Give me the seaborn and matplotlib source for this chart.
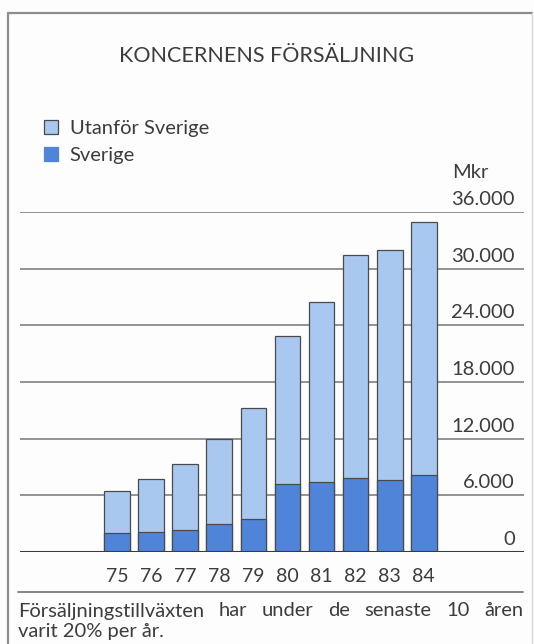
import matplotlib
matplotlib.use("Agg")
import matplotlib.pyplot as plt
from matplotlib.lines import Line2D
from matplotlib.patches import Patch
import seaborn as sns
import pandas as pd
import numpy as np

# ---- data (Mkr) ----
years = ["75", "76", "77", "78", "79", "80", "81", "82", "83", "84"]
sverige = [2000, 2150, 2300, 3000, 3500, 7200, 7400, 7800, 7600, 8200]
utanfor = [4500, 5550, 7000, 9000, 11700, 15700, 19100, 23700, 24400, 26700]
ytick_values = [0, 6000, 12000, 18000, 24000, 30000, 36000]
ytick_labels = ["0", "6.000", "12.000", "18.000", "24.000", "30.000", "36.000"]
title = "KONCERNENS FÖRSÄLJNING"
series_names = ["Utanför Sverige", "Sverige"]
unit = "Mkr"
footnote1 = "Försäljningstillväxten har under de senaste 10 åren"
footnote2 = "varit 20% per år."

light = "#a9c8ef"
dark = "#4f84d8"
edge = "#4a4a4a"
txt = "#3c3c3c"
bg = "#fdfdfd"

sns.set_style("white")
plt.rcParams["font.family"] = ["Lato", "DejaVu Sans"]

W, H = 534, 644
fig = plt.figure(figsize=(W / 100, H / 100), dpi=100, facecolor=bg)

def fx(px):
    return px / W

def fy(py):
    return 1 - py / H

ax = fig.add_axes([fx(20), fy(552), fx(524) - fx(20), fy(212) - fy(552)])
ax.set_facecolor(bg)

df = pd.DataFrame({
    "year": years,
    "sverige": sverige,
    "utanfor": utanfor,
})
df["total"] = df["sverige"] + df["utanfor"]

# gridlines
for v in ytick_values[1:]:
    ax.axhline(v, color="#8a8a8a", lw=1.3, zorder=0)

sns.barplot(data=df, x="year", y="total", order=years, color=light,
            saturation=1, width=0.76, edgecolor=edge, linewidth=0.9,
            ax=ax, zorder=2)
sns.barplot(data=df, x="year", y="sverige", order=years, color=dark,
            saturation=1, width=0.76, edgecolor=edge, linewidth=0.9,
            ax=ax, zorder=3)

ax.axhline(0, color="#3a3a3a", lw=2.2, zorder=4)

ax.set_ylim(0, 36000)
ax.set_xlim(-2.86, 11.95)
ax.set_xlabel("")
ax.set_ylabel("")
ax.set_yticks([])
ax.tick_params(axis="x", length=0, pad=11.5, labelsize=14, labelcolor=txt)
for s in ax.spines.values():
    s.set_visible(False)

# y labels on the right, above the lines
for v, lab in zip(ytick_values, ytick_labels):
    ax.annotate(lab, xy=(0.982, v), xycoords=("axes fraction", "data"),
                xytext=(0, 4), textcoords="offset pixels",
                ha="right", va="bottom", fontsize=14.5, color=txt)
ax.annotate(unit, xy=((452 - 20) / 504, 36000), xycoords=("axes fraction", "data"),
            xytext=(0, 31), textcoords="offset pixels",
            ha="left", va="bottom", fontsize=14.5, color=txt)

# title
fig.text(fx(267), fy(56), title, ha="center", va="center",
         fontsize=15.5, color=txt)

# legend
handles = [Patch(facecolor=light, edgecolor=edge, linewidth=0.9),
           Patch(facecolor=dark, edgecolor=dark, linewidth=0.9)]
fig.legend(handles, series_names, loc="upper left",
           bbox_to_anchor=(fx(44), fy(120)), frameon=False,
           fontsize=14.5, handlelength=0.68, handleheight=0.68,
           handletextpad=0.6, labelspacing=0.5, borderpad=0,
           borderaxespad=0, labelcolor=txt)

# frame
fc = "#8c8c8c"
fig.add_artist(Line2D([fx(8), fx(8)], [0, fy(13)], transform=fig.transFigure,
                      color=fc, lw=1.6))
fig.add_artist(Line2D([fx(8), fx(532)], [fy(13), fy(13)], transform=fig.transFigure,
                      color=fc, lw=1.6))
fig.add_artist(Line2D([fx(532), fx(532)], [0, fy(13)], transform=fig.transFigure,
                      color="#d8d8d8", lw=1.0))
# separator below x labels
fig.add_artist(Line2D([fx(18), fx(523)], [fy(592), fy(592)], transform=fig.transFigure,
                      color="#7a7a7a", lw=1.3))

# footnote: first line justified between x=18 and x=523
fig.canvas.draw()
renderer = fig.canvas.get_renderer()
words = footnote1.split(" ")
objs = [fig.text(0, fy(611), w, ha="left", va="center", fontsize=14.5, color=txt)
        for w in words]
widths = [o.get_window_extent(renderer).width for o in objs]
gap = (523 - 18 - sum(widths)) / (len(words) - 1)
xpos = 18.0
for o, wd in zip(objs, widths):
    o.set_x(fx(xpos))
    xpos += wd + gap
fig.text(fx(18), fy(631), footnote2, ha="left", va="center", fontsize=14.5, color=txt)

fig.savefig("out.png", dpi=100, facecolor=bg)
